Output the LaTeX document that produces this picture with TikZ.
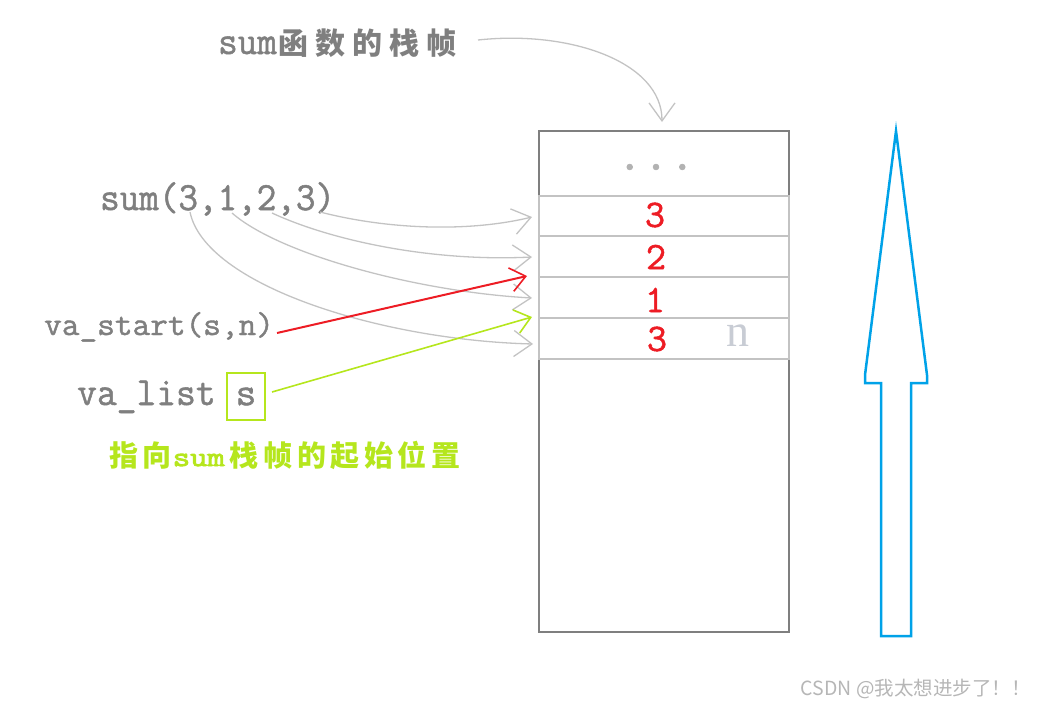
\documentclass[tikz,border=0pt]{standalone}
\usepackage{fontspec}
\setmainfont{Liberation Serif}
\newfontfamily\monof[FakeBold=1.3]{Latin Modern Mono}
\newfontfamily\monog[FakeBold=3]{Latin Modern Mono}
\newfontfamily\cjk{Noto Sans CJK SC}
\newfontfamily\cjkTop[LetterSpace=23]{Noto Sans CJK SC}
\newfontfamily\cjkGreen[LetterSpace=16]{Noto Sans CJK SC}
\usetikzlibrary{arrows.meta}
\definecolor{txtgray}{HTML}{7F7F7F}
\definecolor{lgray}{HTML}{C3C3C3}
\definecolor{myred}{HTML}{ED1C24}
\definecolor{mygreen}{HTML}{B5E61D}
\definecolor{myblue}{HTML}{00A2E8}
\definecolor{ngray}{HTML}{C8CCD4}
\newcommand\mt[3]{\scalebox{#1}[1]{\monof\fontsize{#2}{#2}\selectfont #3}}
\tikzset{
  lbl/.style={inner sep=0pt, text=txtgray},
  cellnum/.style={inner sep=0pt, text=myred, font=\monof\fontsize{39}{39}\selectfont},
  grayarrow/.style={draw=lgray, line width=1.3pt, -{Straight Barb[length=18pt,width=26pt,line width=1.3pt]}},
}
\begin{document}
\begin{tikzpicture}[x=1pt,y=-1pt]
\useasboundingbox (0,0) rectangle (1040,707);
% stack
\draw[txtgray, line width=2pt] (539,131) rectangle (789,632);
\draw[lgray, line width=2pt] (539,196) rectangle (789,236);
\draw[lgray, line width=2pt] (539,236) rectangle (789,277);
\draw[lgray, line width=2pt] (539,277) rectangle (789,318);
\draw[lgray, line width=2pt] (539,318) rectangle (789,359);
\node[inner sep=0pt, text=gray!60] (dots) at (656,167) {\monof\fontsize{51}{51}\selectfont ...};
\node[cellnum] (c1) at (655,215) {3};
\node[cellnum] (c2) at (656,257) {2};
\node[cellnum] (c3) at (655,300) {1};
\node[cellnum] (c4) at (657,339) {3};
\node[inner sep=0pt, text=ngray] (nlbl) at (738,336) {\fontsize{46}{46}\selectfont n};
% labels
\node[lbl, anchor=base west] (toplbl) at (218,54) {\mt{0.95}{40}{sum}\hspace{2pt}{\cjkTop\bfseries\fontsize{30}{30}\selectfont 函数的栈帧}};
\node[lbl, anchor=base west] (sumcall) at (100,210) {\mt{0.95}{40}{sum(3,1,2,3)}};
\node[lbl, anchor=base west] (vastart) at (44,335) {\mt{1.04}{33}{va\_start(s,n)}};
\node[lbl, anchor=base west] (valist) at (77,405) {\mt{0.96}{40}{va\_list}};
\node[draw=mygreen, line width=2pt, minimum width=38pt, minimum height=47pt, inner sep=0pt, text=txtgray] (sbox) at (246,396.5) {\raisebox{-4pt}{\mt{1.0}{40}{s}}};
\node[inner sep=0pt, text=mygreen, anchor=west] (greenlbl) at (109,455) {\cjkGreen\bfseries\fontsize{29}{29}\selectfont 指向\hspace{1pt}\scalebox{1.2}[1]{\monog\fontsize{28}{28}\selectfont sum}\hspace{5pt}栈帧的起始位置};
\node[inner sep=0pt, text=lgray!80!gray, anchor=east] (wm) at (1031,689) {\cjk\fontsize{19.5}{19.5}\selectfont CSDN @我太想进步了！！};
% coordinates
\coordinate (topS) at (478,40);
\coordinate (topT) at (662,122);
\coordinate (s1) at (320,212);
\coordinate (s2) at (272,213);
\coordinate (s3) at (232,213);
\coordinate (s4) at (190,212);
\coordinate (t1) at (532,217);
\coordinate (t2) at (532,257);
\coordinate (t3) at (532,298);
\coordinate (t4) at (533,344);
\coordinate (rS) at (277,333);
\coordinate (rT) at (527,276);
\coordinate (gS) at (272,392);
\coordinate (gT) at (532,317);
% arrows
\draw[grayarrow] (topS) .. controls (570,30) and (662,62) .. (topT);
\draw[grayarrow] (s1) .. controls (390,230) and (470,232) .. (t1);
\draw[grayarrow] (s2) .. controls (330,240) and (430,262) .. (t2);
\draw[grayarrow] (s3) .. controls (280,255) and (420,292) .. (t3);
\draw[grayarrow] (s4) .. controls (205,285) and (380,340) .. (t4);
\draw[myred, line width=2pt, -{Straight Barb[length=15pt,width=24pt,line width=1.6pt]}] (rS) -- (rT);
\draw[mygreen, line width=1.6pt, -{Straight Barb[length=15pt,width=24pt,line width=1.6pt]}] (gS) -- (gT);
% big blue arrow
\draw[myblue, line width=2.5pt, line join=miter] (896,131) -- (865,375) -- (865,383) -- (881,383) -- (881,636) -- (911,636) -- (911,383) -- (927,383) -- (927,375) -- cycle;
\end{tikzpicture}
\end{document}
